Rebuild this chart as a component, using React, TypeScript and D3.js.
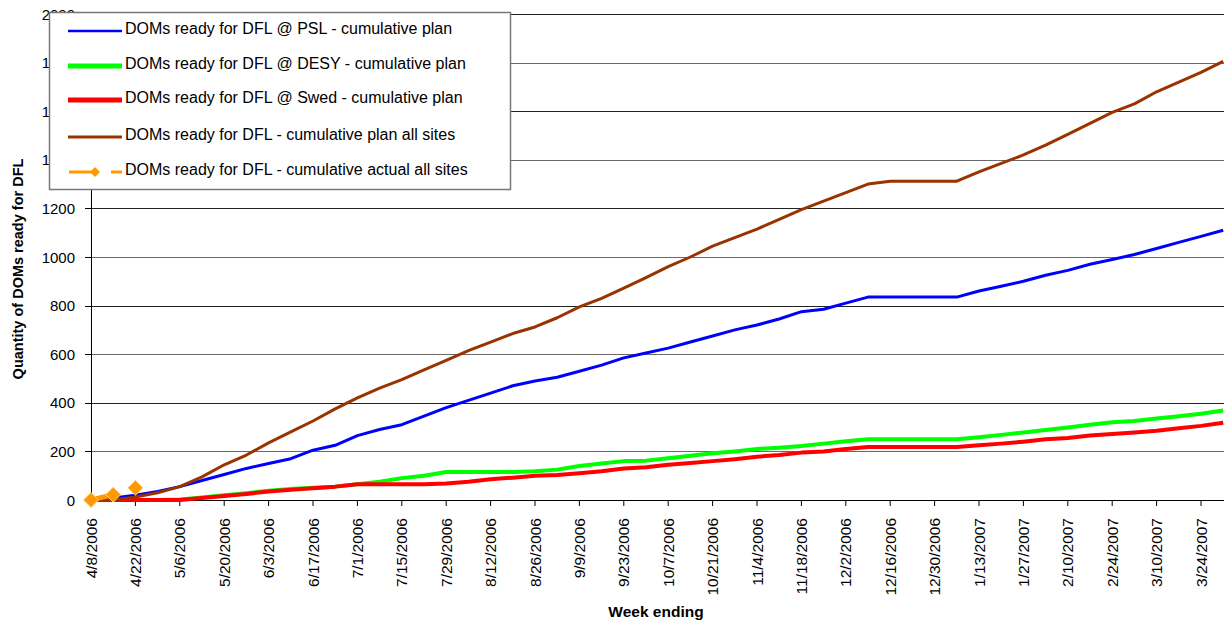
import React from "react";
import * as d3 from "d3";

const weeks = [
  "4/8/2006","4/15/2006","4/22/2006","4/29/2006","5/6/2006","5/13/2006","5/20/2006","5/27/2006",
  "6/3/2006","6/10/2006","6/17/2006","6/24/2006","7/1/2006","7/8/2006","7/15/2006","7/22/2006",
  "7/29/2006","8/5/2006","8/12/2006","8/19/2006","8/26/2006","9/2/2006","9/9/2006","9/16/2006",
  "9/23/2006","9/30/2006","10/7/2006","10/14/2006","10/21/2006","10/28/2006","11/4/2006","11/11/2006",
  "11/18/2006","11/25/2006","12/2/2006","12/9/2006","12/16/2006","12/23/2006","12/30/2006","1/6/2007",
  "1/13/2007","1/20/2007","1/27/2007","2/3/2007","2/10/2007","2/17/2007","2/24/2007","3/3/2007",
  "3/10/2007","3/17/2007","3/24/2007","3/31/2007",
];

const tickLabels = weeks.filter((_, i) => i % 2 === 0);

const psl = [
  0, 8, 20, 35, 55, 80, 105, 130, 150, 170, 205, 225, 265, 290, 310, 345,
  380, 410, 440, 470, 490, 505, 530, 555, 585, 605, 625, 650, 675, 700, 720, 745,
  775, 785, 810, 835, 835, 835, 835, 835, 860, 880, 900, 925, 945, 970, 990, 1010,
  1035, 1060, 1085, 1110,
];
const desy = [
  0, 0, 0, 0, 2, 10, 20, 28, 38, 45, 50, 55, 65, 75, 90, 100,
  115, 115, 115, 115, 118, 125, 140, 150, 160, 162, 172, 182, 192, 200, 210, 215,
  222, 232, 242, 250, 250, 250, 250, 250, 258, 268, 278, 288, 298, 310, 320, 325,
  335, 345, 355, 368,
];
const swed = [
  0, 0, 0, 0, 0, 8, 16, 25, 35, 42, 48, 55, 65, 65, 65, 65,
  68, 75, 85, 92, 100, 103, 110, 118, 130, 135, 145, 152, 160, 168, 178, 185,
  195, 200, 210, 218, 218, 218, 218, 218, 225, 232, 240, 250, 255, 265, 272, 278,
  285, 295, 305, 318,
];
const allSites = [
  0, 0, 12, 30, 55, 95, 145, 185, 235, 280, 325, 375, 420, 460, 495, 535,
  575, 615, 650, 685, 712, 750, 795, 830, 872, 915, 960, 1000, 1045, 1080, 1115, 1155,
  1195, 1230, 1265, 1300, 1312, 1312, 1312, 1312, 1350, 1385, 1420, 1460, 1505, 1550, 1595, 1630,
  1680, 1720, 1760, 1805,
];
const actualWeeks = ["4/8/2006", "4/15/2006", "4/22/2006"];
const actual = [0, 22, 50];

const yTicks = [0, 200, 400, 600, 800, 1000, 1200, 1400, 1600, 1800, 2000];

const seriesNames = [
  "DOMs ready for DFL @ PSL - cumulative plan",
  "DOMs ready for DFL @ DESY - cumulative plan",
  "DOMs ready for DFL @ Swed - cumulative plan",
  "DOMs ready for DFL - cumulative plan all sites",
  "DOMs ready for DFL - cumulative actual all sites",
];

const FONT = "'Liberation Sans', Arial, sans-serif";

export default function App() {
  const W = 1224, H = 624;
  const left = 91, bottom = 500, top = 14;
  const x = d3.scalePoint<string>().domain(weeks).range([left, left + 51 * 22.2]);
  const y = d3.scaleLinear().domain([0, 2000]).range([bottom, top]);

  const line = (vals: number[], cats: string[] = weeks) =>
    d3.line<number>().x((_, i) => x(cats[i]) as number).y((d) => y(d))(vals) as string;

  const lines = [
    { vals: psl, color: "#0000FF", w: 3, lw: 2.5 },
    { vals: desy, color: "#00FF00", w: 4, lw: 5 },
    { vals: swed, color: "#FF0000", w: 4, lw: 5 },
    { vals: allSites, color: "#993300", w: 3, lw: 3 },
  ];
  const legendRows = [31, 66, 100, 137, 172];

  const diamond = (cx: number, cy: number, r: number) =>
    `M${cx},${cy - r}L${cx + r},${cy}L${cx},${cy + r}L${cx - r},${cy}Z`;

  return (
    <svg width={W} height={H} style={{ position: "absolute", left: 0, top: 0, background: "#fff" }}
      fontFamily={FONT}>
      {/* grid */}
      {yTicks.filter((t) => t > 0).map((t, i) => (
        <line key={t} x1={left} x2={W} y1={Math.round(y(t)) + 0.5} y2={Math.round(y(t)) + 0.5}
          stroke={i % 2 === 0 ? "#6a6a6a" : "#222"} strokeWidth={1} />
      ))}
      {/* y tick labels */}
      {yTicks.map((t) => (
        <g key={t}>
          <line x1={left - 6} x2={left} y1={Math.round(y(t)) + 0.5} y2={Math.round(y(t)) + 0.5} stroke="#000" />
          <text x={75} y={y(t) + 5.5} textAnchor="end" fontSize={15} fill="#000">{t}</text>
        </g>
      ))}
      {/* x ticks + labels */}
      {tickLabels.map((lab) => (
        <g key={lab}>
          <line x1={(x(lab) as number)} x2={(x(lab) as number)} y1={bottom} y2={bottom + 6} stroke="#000" />
          <text transform={`translate(${(x(lab) as number) + 5.5},${bottom + 18}) rotate(-90)`}
            textAnchor="end" fontSize={15.5} fill="#000">{lab}</text>
        </g>
      ))}
      {/* axes */}
      <line x1={left + 0.5} x2={left + 0.5} y1={top - 2} y2={bottom} stroke="#000" strokeWidth={1} />
      <line x1={left} x2={W} y1={bottom + 0.5} y2={bottom + 0.5} stroke="#000" strokeWidth={1} />

      {/* series */}
      {lines.map((s, i) => (
        <path key={i} d={line(s.vals)} fill="none" stroke={s.color} strokeWidth={s.w}
          strokeLinejoin="round" />
      ))}
      <path d={line(actual, actualWeeks)} fill="none" stroke="#FF9900" strokeWidth={5}
        strokeDasharray="24,30" />
      {actual.map((v, i) => (
        <path key={i} d={diamond(x(actualWeeks[i]) as number, y(v), 7.5)} fill="#FF9900"
          stroke="#FFD080" strokeWidth={1} />
      ))}

      {/* axis titles */}
      <text transform={`translate(23,269) rotate(-90)`} textAnchor="middle" fontSize={14.5}
        fontWeight="bold" fill="#000">Quantity of DOMs ready for DFL</text>
      <text x={656} y={617} textAnchor="middle" fontSize={15.5} fontWeight="bold" fill="#000">Week ending</text>

      {/* legend */}
      <rect x={49.5} y={12.5} width={461} height={177} fill="#fff" stroke="#777" strokeWidth={1.5} />
      {lines.map((s, i) => (
        <g key={i}>
          <line x1={68} x2={122} y1={legendRows[i]} y2={legendRows[i]} stroke={s.color} strokeWidth={s.lw} />
          <text x={125} y={legendRows[i] + 3} fontSize={16} fill="#000">{seriesNames[i]}</text>
        </g>
      ))}
      <g>
        <line x1={69} x2={93} y1={legendRows[4]} y2={legendRows[4]} stroke="#FF9900" strokeWidth={3} />
        <line x1={111} x2={122} y1={legendRows[4]} y2={legendRows[4]} stroke="#FF9900" strokeWidth={3} />
        <path d={diamond(95, legendRows[4], 5)} fill="#FF9900" />
        <text x={125} y={legendRows[4] + 3} fontSize={16} fill="#000">{seriesNames[4]}</text>
      </g>
    </svg>
  );
}
